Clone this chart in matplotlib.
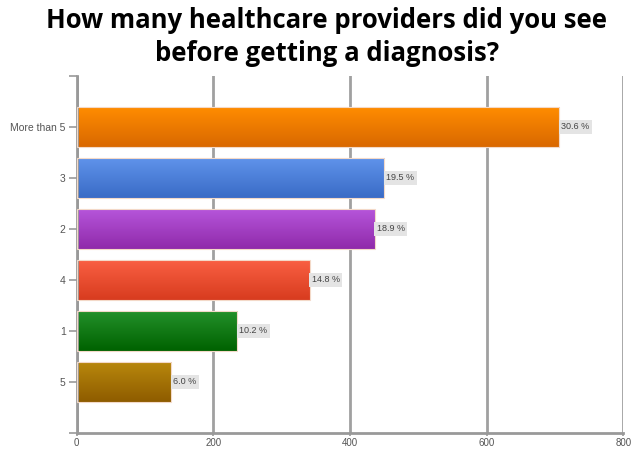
import numpy as np
import matplotlib.pyplot as plt
from matplotlib.colors import LinearSegmentedColormap

# survey answers, top to bottom
categories = ['More than 5', '3', '2', '4', '1', '5']
counts = [706, 450, 436, 341, 235, 138]
percent_labels = ['30.6 %', '19.5 %', '18.9 %', '14.8 %', '10.2 %', '6.0 %']
xticks = [0, 200, 400, 600, 800]

# (top colour, bottom colour) for each bar's gradient
bar_colors = [('#ff8c00', '#d96800'),
              ('#5f93ea', '#3a6bc6'),
              ('#b655da', '#8f2aaa'),
              ('#f95f42', '#d83c1f'),
              ('#23902a', '#006200'),
              ('#b8870c', '#8e5c00')]

fig = plt.figure(figsize=(6.32, 4.49), dpi=100)
ax = fig.add_axes([0.1214, 0.0356, 0.8648, 0.7958])

y = np.arange(len(categories))
bars = ax.barh(y, counts, height=0.78, color='none', edgecolor='#f3d9c8',
               linewidth=0.8, zorder=3)

grad = np.linspace(0, 1, 64).reshape(-1, 1)
for bar, (c_top, c_bot) in zip(bars, bar_colors):
    cmap = LinearSegmentedColormap.from_list('g', [c_top, c_bot])
    x0, y0 = bar.get_x(), bar.get_y()
    w, h = bar.get_width(), bar.get_height()
    im = ax.imshow(grad, cmap=cmap, aspect='auto',
                   extent=(x0, x0 + w, y0 + h, y0), zorder=2)
    im.set_clip_path(bar)

for bar, lab in zip(bars, percent_labels):
    ax.text(bar.get_width() + 3, bar.get_y() + bar.get_height() / 2, lab,
            va='center', ha='left', fontsize=6.5, color='#444444',
            family='Liberation Sans', zorder=4,
            bbox=dict(boxstyle='square,pad=0.25', fc='#e4e4e4', ec='none'))

ax.set_xlim(0, 800)
ax.set_ylim(len(categories), -1)
ax.set_xticks(xticks)
ax.set_xticklabels([str(t) for t in xticks], fontsize=7, color='#555555',
                   family='Liberation Sans')
ax.set_yticks(list(y) + [-1, len(categories)])
ax.set_yticklabels(categories + ['', ''], fontsize=7.5, color='#555555',
                   family='Liberation Sans')
ax.tick_params(axis='y', length=6, width=1.2, color='#999999', pad=2)
ax.tick_params(axis='x', length=2.5, width=1.2, color='#999999', pad=1)

ax.grid(axis='x', color='#a0a0a0', linewidth=2, zorder=0)
ax.set_axisbelow(True)
for side in ['top', 'right']:
    ax.spines[side].set_visible(False)
for side in ['left', 'bottom']:
    ax.spines[side].set_color('#999999')
    ax.spines[side].set_linewidth(2)

title_lines = ['How many healthcare providers did you see',
               'before getting a diagnosis?']
for line, yb in zip(title_lines, [0.9376, 0.8641]):
    fig.text(0.517, yb, line, ha='center', va='baseline', fontsize=18.5,
             fontweight='bold', family='Open Sans', color='black')

fig.savefig('out.png', dpi=100)
